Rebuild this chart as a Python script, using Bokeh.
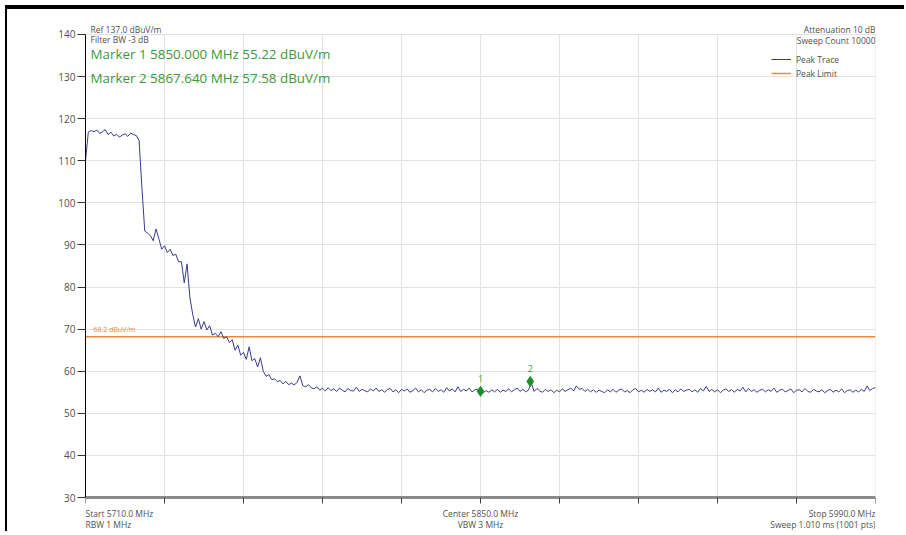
import math
from bokeh.plotting import figure
from bokeh.models import (Range1d, FixedTicker, Label, Legend, LegendItem,
                          ColumnDataSource)
from bokeh.core.properties import value
from bokeh.embed import file_html
from bokeh.resources import INLINE

# ---------------- data ----------------
start_mhz = 5710.0
stop_mhz = 5990.0
center_mhz = 5850.0
step_mhz = 1.0

trace_dbuv = [
    110.0, 116.8, 117.2, 116.9, 117.3, 116.5, 116.9, 117.4, 116.2, 116.8,
    115.9, 116.3, 115.6, 116.1, 116.4, 115.8, 116.6, 116.2, 116.0, 114.8,
    103.5, 93.3, 92.8, 92.2, 91.0, 93.8, 91.5, 89.0, 89.8, 88.2,
    89.0, 87.5, 87.8, 86.0, 86.0, 81.0, 85.5, 77.5, 73.5, 70.5,
    72.5, 70.0, 71.8, 69.8, 70.8, 68.6, 69.0, 68.2, 69.4, 67.8,
    68.2, 66.8, 67.5, 65.0, 66.2, 63.8, 64.5, 62.8, 65.8, 62.5,
    63.0, 61.0, 63.2, 60.0, 58.8, 59.2, 58.0, 58.2, 57.5, 57.8,
    57.0, 57.6, 56.8, 57.2, 56.7, 57.4, 58.9, 56.6, 56.3, 56.8,
    56.1,
    55.8, 56.3, 55.5, 56.0, 55.3, 56.1, 55.4, 55.8, 55.2, 56.0, 55.5, 55.1, 55.9, 55.4, 55.3, 56.2, 55.2, 55.7, 55.4, 55.1,
    55.8, 55.3, 56.0, 55.2, 55.6, 55.0, 55.7, 55.9, 55.1, 55.6, 54.9, 55.7, 55.3, 55.8, 55.0, 55.4, 56.0, 55.1, 55.6, 54.9,
    55.5, 55.7, 55.1, 55.9, 55.2, 55.6, 55.0, 56.1, 55.3, 55.8, 55.1, 56.3, 55.2, 55.7, 55.3, 56.0, 55.1, 55.6, 55.7, 55.22,
    54.9, 55.4, 55.0, 55.6, 55.1, 55.7, 55.0, 55.5, 55.2, 55.8, 55.1, 55.6, 56.0, 55.2, 55.7, 55.1, 55.5, 57.2, 55.2, 55.9,
    55.3, 55.0, 55.7, 55.2, 55.6, 54.9, 55.5, 55.1, 55.8, 55.2, 55.6, 56.0, 55.3, 56.5, 55.7, 55.9, 55.2, 55.7, 55.1, 55.6,
    55.0, 55.5, 55.2, 54.9, 55.6, 55.1, 55.7, 55.0, 55.5, 55.8, 55.1, 55.4, 54.9, 55.6, 55.9, 55.1, 55.5, 55.0, 55.7, 55.2,
    55.6, 55.1, 56.0, 55.0, 55.5, 55.2, 55.7, 54.9, 55.6, 55.1, 55.8, 55.2, 55.5, 55.7, 55.1, 55.6, 55.0, 55.9, 55.3, 56.4,
    55.2, 55.7, 55.1, 55.6, 54.9, 55.5, 55.8, 55.2, 55.6, 55.0, 55.7, 55.3, 56.2, 55.1, 55.9, 55.2, 55.6, 55.0, 55.5, 55.7,
    55.1, 55.6, 55.2, 56.0, 55.0, 55.5, 55.7, 55.1, 55.4, 55.8, 54.9, 55.5, 55.6, 55.1, 55.9, 55.2, 55.0, 55.7, 55.3, 55.1,
    55.6, 54.9, 55.4, 55.7, 55.0, 55.5, 55.1, 55.8, 54.9, 55.4, 55.6, 55.0, 55.5, 55.1, 55.7, 55.2, 56.5, 55.4, 55.9, 56.1,
]
freq_mhz = [start_mhz + i * step_mhz for i in range(len(trace_dbuv))]

limit_dbuv = 68.2
limit_label = "68.2 dBuV/m"

marker_names = ["1", "2"]
marker_freq = [5850.000, 5867.640]
marker_level = [55.22, 57.58]

y_ticks = [30, 40, 50, 60, 70, 80, 90, 100, 110, 120, 130, 140]
x_grid = [5710, 5738, 5766, 5794, 5822, 5850, 5878, 5906, 5934, 5962, 5990]

header_left = ["Ref 137.0 dBuV/m", "Filter BW -3 dB"]
header_right = ["Attenuation 10 dB", "Sweep Count 10000"]
marker_lines = ["Marker 1 5850.000 MHz 55.22 dBuV/m",
                "Marker 2 5867.640 MHz 57.58 dBuV/m"]
footer_left = ["Start 5710.0 MHz", "RBW 1 MHz"]
footer_center = ["Center 5850.0 MHz", "VBW 3 MHz"]
footer_right = ["Stop 5990.0 MHz", "Sweep 1.010 ms (1001 pts)"]

# ---------------- style ----------------
FONT = "Open Sans"
TRACE_C = "#3a3a8e"
LIMIT_C = "#f0883c"
GREEN = "#3a9a3a"
MARK_C = "#1e8c2a"
TXT = "#505050"

y_lo, y_hi = y_ticks[0], y_ticks[-1]
# frame is taller than the scale so the header/footer texts fit inside it
p = figure(width=899, height=526, output_backend="svg", toolbar_location=None,
           x_range=Range1d(start_mhz, stop_mhz), y_range=Range1d(21.45, 142.85),
           min_border_left=78, min_border_right=31, min_border_top=13,
           min_border_bottom=2)
p.styles = {"margin-left": "5px", "margin-top": "5px",
            "border-top": "4px solid black", "border-left": "2px solid black"}
p.outline_line_color = None
p.background_fill_color = "white"
p.border_fill_color = "white"

# grids
p.xgrid.visible = False
p.ygrid.ticker = FixedTicker(ticks=y_ticks)
p.ygrid.grid_line_color = "#e2e2e2"
p.segment(x0=x_grid, y0=[y_lo] * len(x_grid), x1=x_grid, y1=[y_hi] * len(x_grid),
          line_color="#e2e2e2", line_width=1)

# y axis
p.yaxis.ticker = FixedTicker(ticks=y_ticks)
p.yaxis.bounds = (y_lo, y_hi)
p.yaxis.axis_line_color = "black"
p.yaxis.major_tick_line_color = "#333333"
p.yaxis.major_tick_out = 8
p.yaxis.major_tick_in = 0
p.yaxis.minor_tick_line_color = None
p.yaxis.major_label_text_font = FONT
p.yaxis.major_label_text_font_size = "10px"
p.yaxis.major_label_text_color = TXT
p.yaxis.major_label_standoff = 2

# x axis (drawn at the 30 dB line)
p.xaxis.visible = False
p.line(x=[start_mhz, stop_mhz], y=[y_lo, y_lo], line_color="#8a8a8a", line_width=3)
p.ray(x=x_grid, y=[y_lo] * len(x_grid), length=6, length_units="screen",
      angle=-math.pi / 2, line_color="#444444", line_width=1)

# limit line
lim = p.line(x=[start_mhz, stop_mhz], y=[limit_dbuv, limit_dbuv],
             line_color=LIMIT_C, line_width=1.5)
p.add_layout(Label(x=start_mhz, y=limit_dbuv, x_offset=8, y_offset=7,
                   text=limit_label, text_font=FONT, text_font_size="7px",
                   text_color=LIMIT_C, text_baseline="middle"))

# trace
src = ColumnDataSource(dict(f=freq_mhz, v=trace_dbuv))
tr = p.line("f", "v", source=src, line_color=TRACE_C, line_width=1.0)

# markers
msrc = ColumnDataSource(dict(f=marker_freq, v=marker_level, n=marker_names))
p.scatter("f", "v", source=msrc, marker="diamond", size=10,
          fill_color=MARK_C, line_color=MARK_C)
p.text("f", "v", text="n", source=msrc, y_offset=-13, text_align="center",
       text_baseline="middle", text_font=value(FONT), text_font_size="9px",
       text_color=GREEN)

# header texts (top-left)
for i, t in enumerate(header_left):
    p.add_layout(Label(x=start_mhz, y=y_hi, x_offset=5, y_offset=5 - 10 * i,
                       text=t, text_font=FONT, text_font_size="8.5px",
                       text_color=TXT, text_baseline="middle"))
for i, t in enumerate(marker_lines):
    p.add_layout(Label(x=start_mhz, y=y_hi, x_offset=5, y_offset=-20 - 24 * i,
                       text=t, text_font=FONT, text_font_size="13.4px",
                       text_color=GREEN, text_baseline="middle"))
# header texts (top-right)
for i, t in enumerate(header_right):
    p.add_layout(Label(x=stop_mhz, y=y_hi, x_offset=0, y_offset=5 - 11 * i,
                       text=t, text_font=FONT, text_font_size="8.5px",
                       text_color=TXT, text_align="right",
                       text_baseline="middle"))

# footer texts
for lines, xpos, align in [(footer_left, start_mhz, "left"),
                           (footer_center, center_mhz, "center"),
                           (footer_right, stop_mhz, "right")]:
    for i, t in enumerate(lines):
        p.add_layout(Label(x=xpos, y=y_lo, y_offset=-16 - 11 * i, text=t,
                           text_font=FONT, text_font_size="8.5px",
                           text_color=TXT, text_align=align,
                           text_baseline="middle"))

# legend
legend = Legend(items=[LegendItem(label="Peak Trace", renderers=[tr]),
                       LegendItem(label="Peak Limit", renderers=[lim])],
                location=(686, 454), padding=0, margin=0, spacing=2,
                glyph_width=20, glyph_height=12, label_height=12,
                label_standoff=5, label_text_font=FONT,
                label_text_font_size="8.5px", label_text_color=TXT,
                border_line_alpha=0, background_fill_alpha=0)
p.add_layout(legend)

open("out.html", "w").write(file_html(p, INLINE))
